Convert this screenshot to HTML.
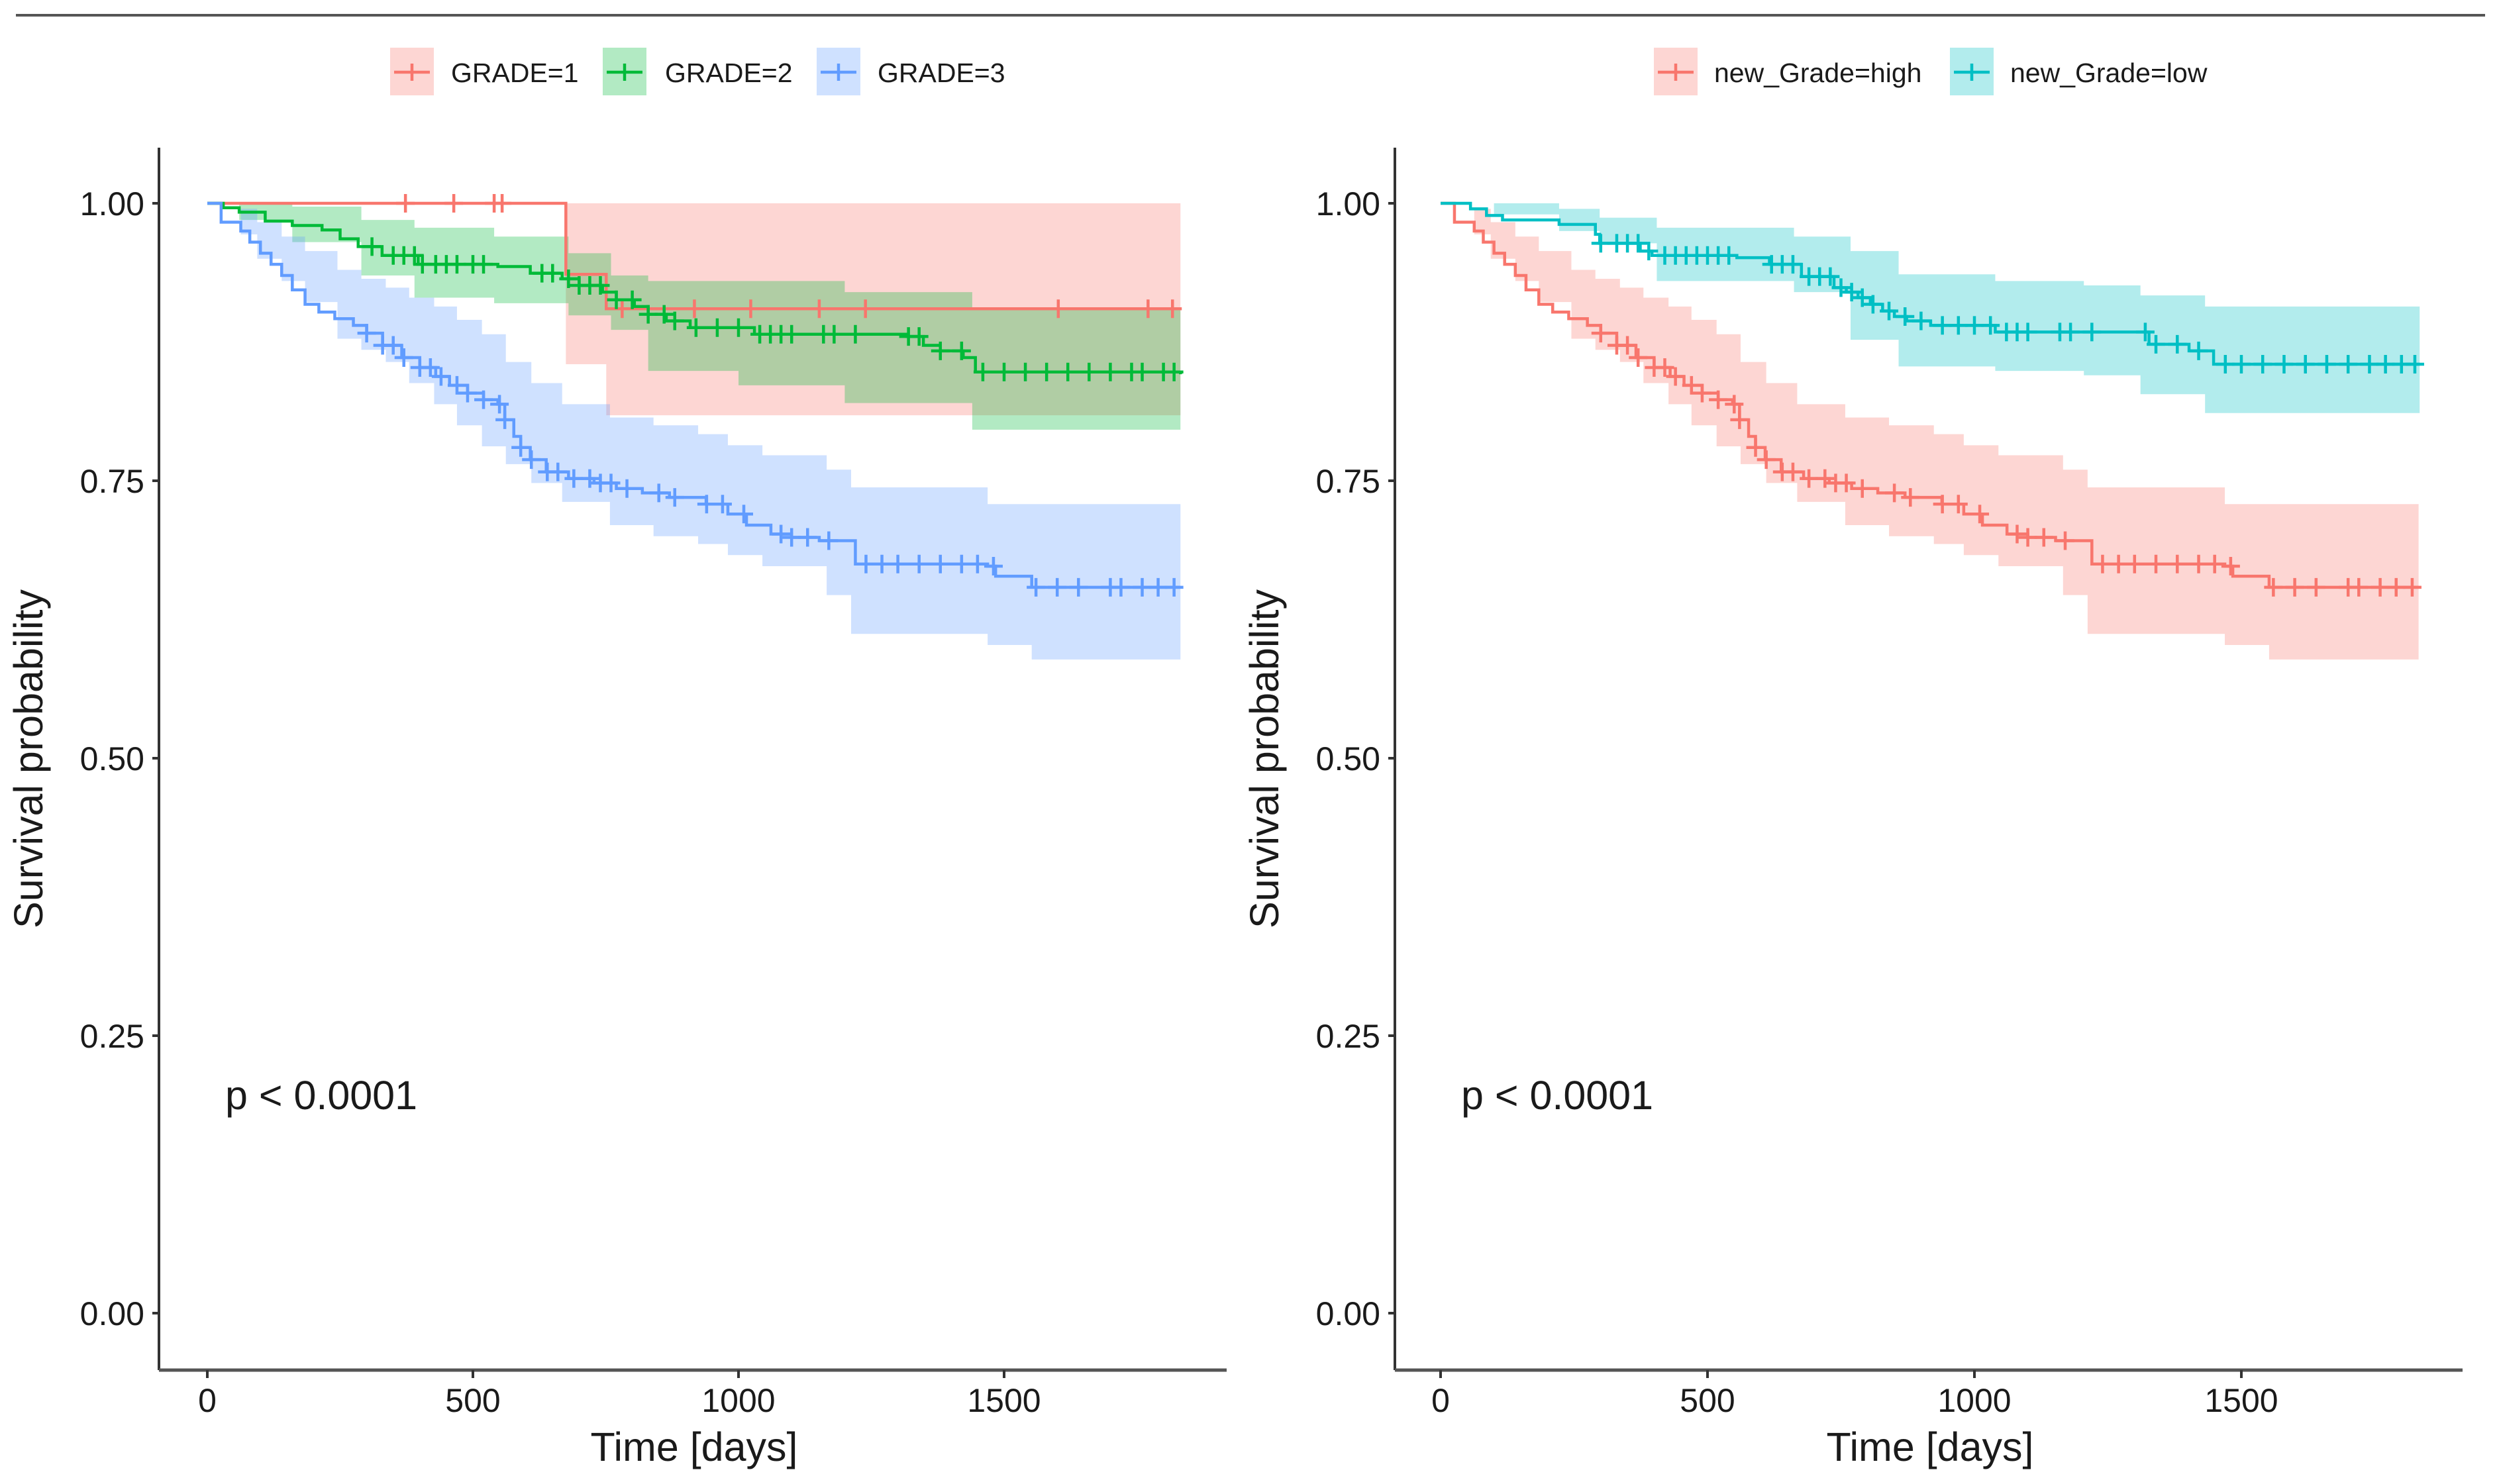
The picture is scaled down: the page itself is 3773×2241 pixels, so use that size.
<!DOCTYPE html>
<html><head><meta charset="utf-8">
<style>
html,body{margin:0;padding:0;background:#fff;}
svg{display:block;}
text{font-family:"Liberation Sans",Arial,sans-serif;fill:#1a1a1a;}
</style></head>
<body>
<svg id="chart" width="3773" height="2241" viewBox="0 0 3773 2241" xmlns="http://www.w3.org/2000/svg">
<line x1="24" y1="23" x2="3752" y2="23" stroke="#555" stroke-width="4"/>
<g id="left"></g>
<g id="right"></g>
</svg>
<script>
// ---- data: left panel (GRADE) ----
const g1Times = [0, 675, 751, 1832];
const g1Surv = [1, 0.936, 0.905, 0.905];
const g1CiTimes = [0, 675, 751, 1832];
const g1CiUpper = [1, 1, 1, 1];
const g1CiLower = [1, 0.855, 0.809, 0.809];
const g1Censor = [373, 464, 540, 555, 781, 917, 1023, 1152, 1239, 1602, 1771, 1817];

const g2Times = [0, 30, 60, 109, 160, 216, 250, 284, 329, 397, 547, 608, 668, 700, 744, 770, 804, 830, 864, 909, 1030, 1317, 1348, 1380, 1423, 1446, 1832];
const g2Surv = [1, 0.996, 0.992, 0.984, 0.98, 0.976, 0.968, 0.961, 0.953, 0.945, 0.943, 0.937, 0.932, 0.926, 0.92, 0.913, 0.907, 0.9, 0.894, 0.888, 0.882, 0.880, 0.872, 0.867, 0.861, 0.848, 0.846];
const g2CiTimes = [0, 60, 160, 290, 390, 540, 680, 760, 830, 1000, 1200, 1440, 1832];
const g2CiUpper = [1, 1, 0.997, 0.985, 0.978, 0.97, 0.955, 0.935, 0.93, 0.93, 0.92, 0.905, 0.905];
const g2CiLower = [1, 0.985, 0.965, 0.935, 0.915, 0.91, 0.899, 0.886, 0.849, 0.836, 0.82, 0.796, 0.796];
const g2Censor = [310, 350, 370, 390, 405, 430, 450, 470, 500, 520, 630, 650, 680, 700, 720, 740, 770, 800, 830, 860, 880, 920, 960, 1000, 1040, 1060, 1080, 1100, 1160, 1180, 1220, 1320, 1340, 1380, 1420, 1460, 1500, 1540, 1580, 1620, 1660, 1700, 1740, 1760, 1800, 1820];

const g3Times = [0, 26, 63, 80, 100, 120, 140, 160, 184, 210, 240, 275, 300, 330, 366, 400, 430, 456, 490, 520, 547, 560, 577, 590, 608, 638, 680, 728, 770, 819, 870, 939, 980, 1015, 1061, 1100, 1152, 1220, 1469, 1484, 1552, 1832];
const g3Surv = [1, 0.983, 0.975, 0.965, 0.955, 0.945, 0.935, 0.922, 0.909, 0.902, 0.896, 0.89, 0.883, 0.872, 0.861, 0.852, 0.844, 0.836, 0.829, 0.823, 0.819, 0.805, 0.79, 0.78, 0.769, 0.758, 0.752, 0.748, 0.743, 0.739, 0.735, 0.729, 0.72, 0.71, 0.702, 0.699, 0.696, 0.675, 0.673, 0.664, 0.654, 0.654];
const g3CiTimes = [0, 63, 94, 140, 184, 245, 290, 336, 380, 427, 470, 517, 562, 610, 668, 758, 840, 924, 980, 1045, 1166, 1212, 1469, 1552, 1832];
const g3CiUpper = [1, 0.995, 0.983, 0.97, 0.957, 0.94, 0.932, 0.924, 0.915, 0.907, 0.895, 0.882, 0.857, 0.838, 0.819, 0.807, 0.8, 0.792, 0.782, 0.773, 0.76, 0.744, 0.729, 0.729, 0.729];
const g3CiLower = [1, 0.972, 0.95, 0.93, 0.911, 0.878, 0.868, 0.857, 0.838, 0.819, 0.8, 0.781, 0.765, 0.748, 0.731, 0.71, 0.7, 0.693, 0.683, 0.673, 0.647, 0.612, 0.602, 0.589, 0.589];
const g3Censor = [300, 330, 350, 370, 400, 420, 440, 470, 490, 520, 550, 560, 590, 610, 640, 660, 690, 720, 740, 760, 790, 850, 880, 940, 970, 1010, 1080, 1100, 1130, 1170, 1240, 1270, 1300, 1340, 1380, 1420, 1450, 1480, 1560, 1600, 1640, 1700, 1720, 1760, 1790, 1820];

// ---- data: right panel (new_Grade) ----
const lowTimes = [0, 56, 86, 116, 222, 290, 298, 374, 396, 555, 616, 676, 737, 760, 782, 805, 828, 850, 873, 918, 1039, 1281, 1327, 1402, 1448, 1834];
const lowSurv = [1, 0.995, 0.989, 0.985, 0.981, 0.972, 0.964, 0.957, 0.953, 0.951, 0.945, 0.934, 0.924, 0.92, 0.915, 0.909, 0.903, 0.898, 0.894, 0.890, 0.884, 0.884, 0.873, 0.867, 0.855, 0.855];
const lowCiTimes = [0, 100, 222, 298, 405, 662, 768, 858, 1039, 1205, 1311, 1432, 1834];
const lowCiUpper = [1, 1, 0.995, 0.987, 0.978, 0.97, 0.957, 0.936, 0.93, 0.926, 0.917, 0.907, 0.907];
const lowCiLower = [1, 0.99, 0.975, 0.964, 0.93, 0.92, 0.877, 0.853, 0.849, 0.845, 0.828, 0.811, 0.811];
const lowCensor = [300, 330, 350, 370, 390, 420, 440, 460, 480, 500, 520, 540, 620, 640, 660, 690, 710, 730, 750, 770, 790, 810, 840, 870, 900, 940, 970, 1000, 1030, 1060, 1080, 1100, 1160, 1180, 1220, 1320, 1340, 1380, 1420, 1470, 1500, 1540, 1580, 1620, 1660, 1700, 1740, 1770, 1800, 1825];
const highTimes = g3Times;
const highSurv = g3Surv;
const highCiTimes = g3CiTimes;
const highCiUpper = g3CiUpper;
const highCiLower = g3CiLower;
const highCensor = g3Censor;

const xTicks = [0, 500, 1000, 1500];
const yTicks = [0, 0.25, 0.5, 0.75, 1];
const yTickLabels = ["0.00", "0.25", "0.50", "0.75", "1.00"];

const NS = "http://www.w3.org/2000/svg";
function mk(parent, tag, attrs, txt) {
  const e = document.createElementNS(NS, tag);
  for (const k in attrs) e.setAttribute(k, attrs[k]);
  if (txt !== undefined) e.textContent = txt;
  parent.appendChild(e);
  return e;
}
function stepPath(times, vals, X, Y) {
  let d = "M" + X(times[0]) + "," + Y(vals[0]);
  for (let i = 1; i < times.length; i++) d += " H" + X(times[i]) + " V" + Y(vals[i]);
  return d;
}
function valAt(times, vals, t) {
  let v = vals[0];
  for (let i = 0; i < times.length; i++) if (times[i] <= t) v = vals[i];
  return v;
}
function ciPath(times, up, lo, X, Y) {
  const n = times.length;
  let d = "M" + X(times[0]) + "," + Y(up[0]);
  for (let i = 1; i < n; i++) d += " H" + X(times[i]) + " V" + Y(up[i]);
  d += " V" + Y(lo[n - 1]);
  for (let i = n - 1; i > 0; i--) d += " V" + Y(lo[i - 1]) + " H" + X(times[i - 1]);
  d += " Z";
  return d;
}

function drawPanel(g, axisX, x0, kx, series, legend) {
  const X = t => x0 + t * kx;
  const Y = s => 1983 - s * 1676;
  series.forEach(s => {
    const p = mk(g, "path", {d: ciPath(s.ciT, s.ciU, s.ciL, X, Y), fill: s.color, "fill-opacity": 0.3, stroke: "none"});
    
    
  });
  series.forEach(s => {
    const p = mk(g, "path", {d: stepPath(s.t, s.s, X, Y), fill: "none", stroke: s.color, "stroke-width": 4.5});
    
    
    s.cens.forEach(c => {
      const cx = X(c), cy = Y(valAt(s.t, s.s, c));
      const m = mk(g, "path", {d: "M" + (cx - 14) + "," + cy + " H" + (cx + 14) + " M" + cx + "," + (cy - 14) + " V" + (cy + 14), stroke: s.color, "stroke-width": 4.5, fill: "none"});
      
      
    });
  });
  const ya = mk(g, "line", {x1: axisX, y1: 223, x2: axisX, y2: 2069, stroke: "#333", "stroke-width": 4});
  
  
  const xa = mk(g, "line", {x1: axisX, y1: 2069, x2: axisX + 1612, y2: 2069, stroke: "#555", "stroke-width": 5});
  
  
  yTicks.forEach((v, i) => {
    const tk = mk(g, "line", {x1: axisX - 10, y1: Y(v), x2: axisX, y2: Y(v), stroke: "#333", "stroke-width": 4});
    
    
    const tl = mk(g, "text", {x: axisX - 22, y: Y(v) + 18, "text-anchor": "end", "font-size": 50, fill: "#333"}, yTickLabels[i]);
    
    
  });
  xTicks.forEach(v => {
    const tk = mk(g, "line", {x1: X(v), y1: 2069, x2: X(v), y2: 2081, stroke: "#333", "stroke-width": 4});
    
    
    const tl = mk(g, "text", {x: X(v), y: 2132, "text-anchor": "middle", "font-size": 50, fill: "#333"}, String(v));
    
    
  });
  const xt = mk(g, "text", {x: axisX + 808, y: 2206, "text-anchor": "middle", "font-size": 61}, "Time [days]");
  
  
  const yt = mk(g, "text", {x: 0, y: 0, "text-anchor": "middle", "font-size": 61, transform: "translate(" + (axisX - 176) + ",1146) rotate(-90)"}, "Survival probability");
  
  
  const pv = mk(g, "text", {x: axisX + 100, y: 1675, "font-size": 61}, "p < 0.0001");
  
  
  legend.forEach(l => {
    const lg = mk(g, "g", {});
    
    
    mk(lg, "rect", {x: l.kx, y: 72, width: 66, height: 72, fill: l.color, "fill-opacity": 0.3});
    mk(lg, "path", {d: "M" + (l.kx + 6) + ",109 H" + (l.kx + 60) + " M" + (l.kx + 33) + ",96 V122", stroke: l.color, "stroke-width": 4.5, fill: "none"});
    mk(lg, "text", {x: l.tx, y: 124, "font-size": 41, fill: "#222"}, l.label);
  });
}

drawPanel(document.getElementById("left"), 240, 313, 0.802, [
  {key: "grade-1", color: "#F8766D", t: g1Times, s: g1Surv, ciT: g1CiTimes, ciU: g1CiUpper, ciL: g1CiLower, cens: g1Censor},
  {key: "grade-2", color: "#00BA38", t: g2Times, s: g2Surv, ciT: g2CiTimes, ciU: g2CiUpper, ciL: g2CiLower, cens: g2Censor},
  {key: "grade-3", color: "#619CFF", t: g3Times, s: g3Surv, ciT: g3CiTimes, ciU: g3CiUpper, ciL: g3CiLower, cens: g3Censor}
], [
  {kx: 589, tx: 681, color: "#F8766D", label: "GRADE=1"},
  {kx: 910, tx: 1004, color: "#00BA38", label: "GRADE=2"},
  {kx: 1233, tx: 1325, color: "#619CFF", label: "GRADE=3"}
]);
drawPanel(document.getElementById("right"), 2106, 2175, 0.806, [
  {key: "high", color: "#F8766D", t: highTimes, s: highSurv, ciT: highCiTimes, ciU: highCiUpper, ciL: highCiLower, cens: highCensor},
  {key: "low", color: "#00BFC4", t: lowTimes, s: lowSurv, ciT: lowCiTimes, ciU: lowCiUpper, ciL: lowCiLower, cens: lowCensor}
], [
  {kx: 2497, tx: 2588, color: "#F8766D", label: "new_Grade=high"},
  {kx: 2944, tx: 3035, color: "#00BFC4", label: "new_Grade=low"}
]);
</script>
</body></html>
